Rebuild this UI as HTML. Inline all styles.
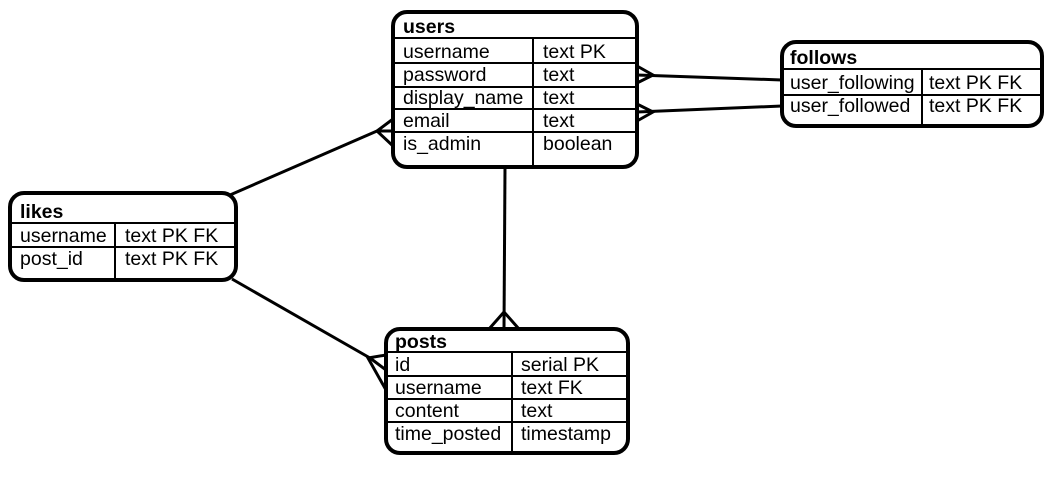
<!DOCTYPE html>
<html><head><meta charset="utf-8"><style>
body{margin:0;background:#fff;}
svg{display:block;}
text{font-family:"Liberation Sans",Arial,sans-serif;font-size:19.5px;fill:#000;}
.h{font-weight:bold;}
</style></head><body>
<svg width="1064" height="479" viewBox="0 0 1064 479">
<g fill="none" stroke="#000" stroke-width="3">
<line x1="637" y1="75" x2="782" y2="80"/>
<polyline points="637,66 653,75 637,83"/>
<line x1="637" y1="112" x2="782" y2="106"/>
<polyline points="637,104 653,112 637,121"/>
<line x1="230" y1="195" x2="377" y2="131"/>
<polyline points="393,119 377,131 393,146"/>
<line x1="377" y1="131" x2="393" y2="131"/>
<line x1="505" y1="167" x2="504" y2="329"/>
<polyline points="489,329 504,312 519,329"/>
<line x1="232" y1="279" x2="370" y2="358"/>
<polyline points="386,355 368,358 386,390"/>
<line x1="370" y1="358" x2="386" y2="370"/>
</g>
<g fill="#fff" stroke="#000" stroke-width="4">
<rect x="393" y="12" width="244" height="155" rx="14"/>
<rect x="10" y="193" width="226" height="87" rx="14"/>
<rect x="386" y="329" width="242" height="124" rx="14"/>
<rect x="782" y="42" width="260" height="84" rx="14"/>
</g>
<g stroke="#000" stroke-width="2">
<line x1="395" y1="38" x2="635" y2="38"/>
<line x1="395" y1="63" x2="635" y2="63"/>
<line x1="395" y1="87" x2="635" y2="87"/>
<line x1="395" y1="109" x2="635" y2="109"/>
<line x1="395" y1="132" x2="635" y2="132"/>
<line x1="533" y1="38" x2="533" y2="165"/>
<line x1="12" y1="223" x2="234" y2="223"/>
<line x1="12" y1="247" x2="234" y2="247"/>
<line x1="115" y1="223" x2="115" y2="278"/>
<line x1="388" y1="352" x2="626" y2="352"/>
<line x1="388" y1="376" x2="626" y2="376"/>
<line x1="388" y1="399" x2="626" y2="399"/>
<line x1="388" y1="422" x2="626" y2="422"/>
<line x1="512" y1="352" x2="512" y2="451"/>
<line x1="784" y1="69" x2="1040" y2="69"/>
<line x1="784" y1="95" x2="1040" y2="95"/>
<line x1="922" y1="69" x2="922" y2="124"/>
</g>
<text class="h" x="403" y="33">users</text>
<text x="403" y="58">username</text><text x="543" y="58">text PK</text>
<text x="403" y="81">password</text><text x="543" y="81">text</text>
<text x="403" y="104">display_name</text><text x="543" y="104">text</text>
<text x="403" y="127">email</text><text x="543" y="127">text</text>
<text x="403" y="150">is_admin</text><text x="543" y="150">boolean</text>
<text class="h" x="20" y="218">likes</text>
<text x="20" y="242">username</text><text x="125" y="242">text PK FK</text>
<text x="20" y="265">post_id</text><text x="125" y="265">text PK FK</text>
<text class="h" x="395" y="348">posts</text>
<text x="395" y="371">id</text><text x="521" y="371">serial PK</text>
<text x="395" y="394">username</text><text x="521" y="394">text FK</text>
<text x="395" y="417">content</text><text x="521" y="417">text</text>
<text x="395" y="440">time_posted</text><text x="521" y="440">timestamp</text>
<text class="h" x="790" y="64">follows</text>
<text x="790" y="89">user_following</text><text x="929" y="89">text PK FK</text>
<text x="790" y="112">user_followed</text><text x="929" y="112">text PK FK</text>
</svg>
</body></html>
